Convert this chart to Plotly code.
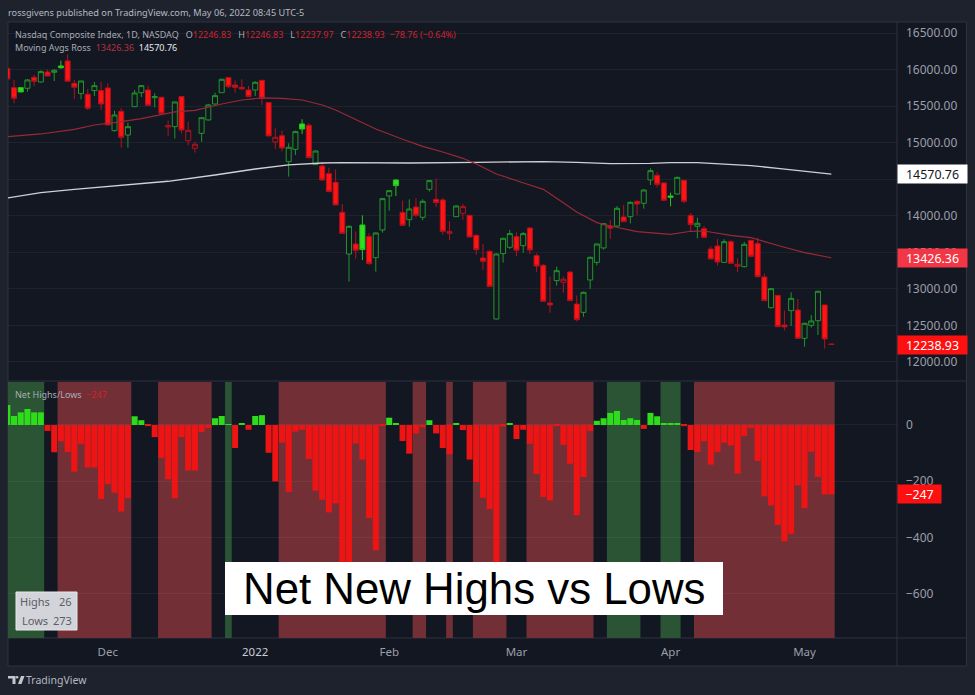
import plotly.graph_objects as go

# Nasdaq Composite daily candles (Nov 9 2021 to May 6 2022)
opens = [16017, 15753, 15753, 15744, 15894, 15830, 15967, 15963, 16049, 16118, 15812, 15671, 15662, 15712, 15712,
         15748, 15165, 15429, 15105, 15493, 15684, 15721, 15616, 15621, 15215, 15219, 15630, 15028, 14923, 15128,
         15311, 15529, 15684, 15890, 15789, 15757, 15721, 15721, 15853, 15548, 15010, 15096, 14741, 14909, 15256,
         15238, 14700, 14681, 14576, 14458, 14047, 13477, 13614, 13874, 13715, 13427, 13806, 14271, 14490, 14047,
         13947, 14120, 13979, 14362, 14225, 14216, 13760, 13988, 14034, 14006, 13733, 13423, 13514, 12588, 13482,
         13569, 13715, 13591, 13833, 13455, 13322, 12807, 13113, 13090, 13231, 12793, 12679, 13122, 13363, 13560,
         13860, 13860, 13984, 13988, 14198, 14171, 14490, 14554, 14449, 14271, 14298, 14485, 14006, 13856, 13824,
         13546, 13587, 13363, 13646, 13309, 13304, 13664, 13623, 13163, 12743, 12912, 12506, 12702, 12711, 12324,
         12502, 12565, 12780, 12246.83]
highs = [16017, 15858, 15760, 15871, 15926, 15990, 15999, 16008, 16122, 16209, 15858, 15844, 15735, 15830, 15830,
         15812, 15438, 15470, 15274, 15721, 15789, 15780, 15675, 15621, 15301, 15561, 15630, 15288, 15014, 15342,
         15529, 15684, 15876, 15890, 15849, 15867, 15776, 15840, 15853, 15548, 15197, 15165, 14991, 15165, 15320,
         15265, 14891, 14718, 14658, 14636, 14161, 13870, 13783, 14006, 13760, 13774, 14244, 14353, 14499, 14207,
         14225, 14239, 14225, 14490, 14508, 14244, 13924, 14143, 14161, 14011, 13742, 13614, 13532, 13487, 13701,
         13806, 13774, 13778, 13838, 13487, 13341, 13167, 13304, 13167, 13240, 12912, 12962, 13441, 13623, 13902,
         13947, 14134, 14148, 14198, 14207, 14362, 14649, 14599, 14453, 14316, 14535, 14490, 14038, 13974, 13860,
         13582, 13683, 13678, 13664, 13418, 13642, 13669, 13701, 13208, 13012, 12917, 12707, 12953, 12862, 12538,
         12643, 12976, 12780, 12246.83]
lows = [15871, 15539, 15690, 15698, 15776, 15821, 15912, 15844, 16008, 15840, 15598, 15593, 15447, 15639, 15447,
        15242, 15151, 14932, 14932, 15493, 15625, 15502, 15484, 15402, 15092, 15055, 15128, 14964, 14864, 15010,
        15301, 15520, 15684, 15748, 15684, 15726, 15630, 15639, 15516, 15092, 14914, 14882, 14535, 14832, 15119,
        14782, 14695, 14481, 14330, 14148, 13760, 13099, 13414, 13395, 13332, 13236, 13769, 14070, 14271, 13860,
        13851, 13979, 13938, 14330, 14120, 13742, 13669, 13984, 13943, 13710, 13468, 13259, 13026, 12584, 13359,
        13546, 13450, 13496, 13477, 13231, 12825, 12675, 13044, 12948, 12834, 12556, 12620, 12999, 13322, 13537,
        13687, 13851, 13920, 13897, 14011, 14098, 14421, 14389, 14203, 14130, 14289, 14171, 13783, 13692, 13701,
        13409, 13318, 13359, 13345, 13227, 13295, 13432, 13154, 12834, 12730, 12483, 12433, 12492, 12315, 12210,
        12470, 12369, 12182, 12237.97]
closes = [15871, 15607, 15694, 15858, 15840, 15972, 15912, 15990, 16026, 15840, 15757, 15844, 15470, 15780, 15529,
          15242, 15379, 15073, 15219, 15680, 15780, 15511, 15630, 15402, 15233, 15557, 15174, 15169, 14978, 15342,
          15516, 15643, 15867, 15767, 15757, 15735, 15630, 15826, 15607, 15092, 15073, 14928, 14937, 15151, 15187,
          14795, 14886, 14490, 14330, 14148, 13760, 13856, 13528, 13537, 13345, 13765, 14234, 14344, 14412, 13870,
          14093, 14006, 14198, 14481, 14180, 13788, 13783, 14134, 14125, 13710, 13537, 13377, 13031, 13477, 13692,
          13756, 13528, 13756, 13532, 13313, 12830, 12780, 13249, 13131, 12839, 12579, 12953, 13432, 13614, 13892,
          13829, 14102, 13920, 14184, 14161, 14353, 14617, 14430, 14212, 14253, 14526, 14198, 13879, 13897, 13705,
          13409, 13368, 13646, 13350, 13336, 13610, 13446, 13167, 12839, 13003, 12483, 12480, 12871, 12324, 12529,
          12561, 12967, 12315, 12238.93]

# moving averages, sampled at the bars where they could be read
ma_red_bars = [0, 5, 10, 13, 16, 20, 25, 28, 32, 35, 38, 41, 44, 47, 49, 53, 55, 59, 62, 65, 68, 70, 73, 78, 80, 82,
               85, 88, 90, 94, 96, 99, 102, 104, 108, 111, 116, 119, 123]
ma_red = [15083, 15119, 15183, 15242, 15274, 15329, 15420, 15443, 15529, 15584, 15612, 15607, 15584, 15515, 15447,
          15279, 15187, 15046, 14950, 14873, 14786, 14709, 14572, 14421, 14362, 14239, 14052, 13906, 13860, 13783,
          13765, 13746, 13788, 13792, 13733, 13701, 13569, 13496, 13426.36]
ma_white_bars = [0, 5, 10, 18, 24, 31, 37, 42, 47, 50, 60, 70, 80, 85, 90, 96, 99, 103, 108, 111, 115, 119, 123]
ma_white = [14244, 14316, 14362, 14421, 14472, 14558, 14640, 14695, 14722, 14727, 14722, 14731, 14741, 14731, 14713,
            14718, 14727, 14727, 14704, 14686, 14649, 14608, 14570.76]

# net new highs minus lows, same bars
net_hl = [71, 32, 45, 57, 45, 45, -21, -97, -58, -96, -166, -67, -151, -151, -263, -211, -241, -308, -260, 31, 17, -4,
          -43, -117, -193, -260, -43, -162, -162, -25, -11, 24, 32, 2, -82, 6, -17, 32, 35, -99, -201, -63, -238, -24,
          -17, -121, -234, -266, -311, -279, -560, -520, -66, -123, -331, -446, -3, 26, 6, -57, -102, -30, -8, 17, -30,
          -82, -104, 6, -18, -123, -203, -259, -299, -520, -5, 4, -50, -17, -67, -174, -256, -269, -4, -71, -138, -321,
          -185, -21, 15, 24, 43, 50, 18, 24, 18, -14, 43, 31, 4, 5, 5, -4, -89, -96, -58, -141, -96, -63, -73, -173,
          -39, -11, -128, -254, -286, -356, -414, -387, -215, -296, -95, -185, -247, -247]

# shaded background runs on the lower pane, in bars
green_bands = [(-1, 5.5), (32.5, 33.5), (89.5, 94.5), (97.5, 100.5)]
red_bands = [(7.5, 18.5), (22.5, 30.5), (40.5, 56.5), (60.5, 62.5), (65.5, 66.5), (69.5, 74.5), (77.5, 87.5),
             (102.5, 123.5)]

month_bars = [15, 37, 57, 76, 99, 119]
month_labels = ['Dec', '<span style="color:#c9ccd4">2022</span>', 'Feb', 'Mar', 'Apr', 'May']
price_ticks = [12000, 12500, 13000, 13500, 14000, 14500, 15000, 15500, 16000, 16500]
net_ticks = [0, -200, -400, -600]
net_tick_labels = ['0', '\u2212200', '\u2212400', '\u2212600']

W, H = 975, 695
LEFT, RIGHT, TOP, BOTTOM = 8, 897, 23, 638
PAGE = '#1e222d'
PANE = '#131722'
BORDER = '#2e323e'
GRID = 'rgba(255,255,255,0.05)'
AXIS_TEXT = '#9b9fa9'
FONT = 'Noto Sans'


def xp(px):
    return (px - LEFT) / (RIGHT - LEFT)


def yp(py):
    return (BOTTOM - py) / (BOTTOM - TOP)


def rect(x0, y0, x1, y1, fill, line=None, layer='below'):
    return dict(type='rect', xref='paper', yref='paper', x0=xp(x0), x1=xp(x1), y0=yp(y0), y1=yp(y1),
                fillcolor=fill, line=dict(color=line or fill, width=1 if line else 0), layer=layer)


def label(px, py, text, size=9.5, color='#a9adb7', anchor='left', family=FONT):
    return dict(xref='paper', yref='paper', x=xp(px), y=yp(py), text=text, showarrow=False, xanchor=anchor,
                yanchor='middle', align=anchor, font=dict(family=family, size=size, color=color),
                borderpad=0, borderwidth=0)


def price_tag(yref, value, text, width, fill, color='#ffffff'):
    return dict(xref='paper', yref=yref, x=1, y=value, text=text, showarrow=False, xanchor='left', yanchor='middle',
                align='center', width=width, height=18, bgcolor=fill, borderpad=0,
                font=dict(family=FONT, size=12.4, color=color))


fig = go.Figure()

# hollow when the day closed above its open, coloured against the prior close
bars = list(range(len(closes)))
up_vs_prev = [False] + [closes[i] > closes[i - 1] for i in bars[1:]]
candle_styles = [
    (True, True, '#21962a', PANE),
    (True, False, '#b3121e', PANE),
    (False, True, '#27c41c', '#2ee01f'),
    (False, False, '#b3121e', '#ff1313'),
]
for hollow, green, line_color, fill in candle_styles:
    picked = [i for i in bars if (closes[i] > opens[i]) == hollow and up_vs_prev[i] == green]
    side = dict(line=dict(color=line_color, width=1), fillcolor=fill)
    fig.add_trace(go.Candlestick(
        x=picked,
        open=[opens[i] for i in picked],
        high=[highs[i] for i in picked],
        low=[lows[i] for i in picked],
        close=[closes[i] for i in picked],
        increasing=side,
        decreasing=side,
        showlegend=False,
        hoverinfo='skip',
    ))

fig.add_trace(go.Scatter(x=ma_white_bars, y=ma_white, mode='lines', line=dict(color='#d0d1d6', width=1.3),
                         showlegend=False, hoverinfo='skip'))
fig.add_trace(go.Scatter(x=ma_red_bars, y=ma_red, mode='lines', line=dict(color='#982a35', width=1.2),
                         showlegend=False, hoverinfo='skip'))

fig.add_trace(go.Bar(x=bars, y=net_hl, xaxis='x2', yaxis='y2', showlegend=False, hoverinfo='skip',
                     marker=dict(color=['#2fdc1c' if v >= 0 else '#ee1414' for v in net_hl], line=dict(width=0))))

shapes = [
    rect(8, 22, 966.5, 666, PANE, BORDER),
    dict(type='line', xref='paper', yref='paper', x0=xp(8), x1=xp(966.5), y0=yp(381), y1=yp(381),
         line=dict(color=BORDER, width=1), layer='below'),
    dict(type='line', xref='paper', yref='paper', x0=xp(8), x1=xp(966.5), y0=yp(638), y1=yp(638),
         line=dict(color=BORDER, width=1), layer='below'),
    dict(type='line', xref='paper', yref='paper', x0=xp(897), x1=xp(897), y0=yp(22), y1=yp(666),
         line=dict(color=BORDER, width=1), layer='below'),
]
for bands, color in ((green_bands, '#2a5434'), (red_bands, '#723036')):
    for start, end in bands:
        shapes.append(dict(type='rect', xref='x2', yref='y2 domain', x0=start, x1=end, y0=0, y1=1,
                           fillcolor=color, line=dict(width=0), layer='below'))

# overlay boxes sit above the bars
shapes.append(rect(225, 562, 723, 615, '#ffffff', layer='above'))
shapes.append(rect(16, 592, 77, 630, '#d2d4d9', '#e6e7ea', layer='above'))

# TradingView mark
logo_x = [8, 15.5, 15.5, 12.5, 12.5, 8]
logo_y = [676, 676, 684, 684, 678.5, 678.5]
logo = 'M ' + ' L '.join(f'{xp(a):.5f},{yp(b):.5f}' for a, b in zip(logo_x, logo_y)) + ' Z'
shapes.append(dict(type='path', xref='paper', yref='paper', path=logo, fillcolor='#c4c7ce', line=dict(width=0)))
slant_x = [18, 21.5, 24.5, 21]
slant_y = [684, 684, 676, 676]
slant = 'M ' + ' L '.join(f'{xp(a):.5f},{yp(b):.5f}' for a, b in zip(slant_x, slant_y)) + ' Z'
shapes.append(dict(type='path', xref='paper', yref='paper', path=slant, fillcolor='#c4c7ce', line=dict(width=0)))
shapes.append(dict(type='circle', xref='paper', yref='paper', x0=xp(15.8), x1=xp(18.4), y0=yp(676), y1=yp(678.6),
                   fillcolor='#c4c7ce', line=dict(width=0)))

red_txt = '<span style="color:#d0222c">'
ohlc_line = ('Nasdaq Composite Index, 1D, NASDAQ   O' + red_txt + '12246.83</span>   H' + red_txt + '12246.83</span>   L'
             + red_txt + '12237.97</span>   C' + red_txt + '12238.93  \u221278.76 (\u22120.64%)</span>')
ma_line = ('Moving Avgs Ross  <span style="color:#b5323e">13426.36</span>  '
           '<span style="color:#e8e9ec">14570.76</span>')

annotations = [
    label(8, 12, 'rossgivens published on TradingView.com, May 06, 2022 08:45 UTC-5', size=9.2, color='#b4b8c2'),
    label(15, 34, ohlc_line, size=9),
    label(15, 47.5, ma_line, size=9),
    label(15, 394, 'Net Highs/Lows  ' + red_txt + '\u2212247</span>', size=9),
    price_tag('y', ma_white[-1], f'{ma_white[-1]:.2f}', 69, '#ffffff', '#131722'),
    price_tag('y', ma_red[-1], f'{ma_red[-1]:.2f}', 69, '#f23645'),
    price_tag('y', closes[-1], f'{closes[-1]:.2f}', 69, '#ff1010'),
    price_tag('y2', net_hl[-1], '\u2212' + str(abs(net_hl[-1])), 43, '#ff1010'),
    label(474, 588, 'Net New Highs vs Lows', size=43.8, color='#000000', anchor='center', family='Liberation Sans'),
    label(20, 601, 'Highs', size=11, color='#5a5d66'),
    label(72, 601, '26', size=11, color='#5a5d66', anchor='right'),
    label(22, 620, 'Lows', size=11, color='#5a5d66'),
    label(72, 620, '273', size=11, color='#5a5d66', anchor='right'),
    label(26, 680, 'TradingView', size=10.5, color='#b4b8c2'),
]

fig.update_layout(
    width=W,
    height=H,
    margin=dict(l=LEFT, r=W - RIGHT, t=TOP, b=H - BOTTOM, pad=0),
    paper_bgcolor=PAGE,
    plot_bgcolor=PANE,
    boxgap=0.25,
    boxgroupgap=0,
    bargap=0.1,
    showlegend=False,
    shapes=shapes,
    annotations=annotations,
    xaxis=dict(domain=[0, 1], range=[0.1, 132.8], anchor='y', showgrid=False, showticklabels=False, zeroline=False,
               rangeslider=dict(visible=False)),
    yaxis=dict(domain=[yp(381), 1], range=[11740, 16637], side='right', tickvals=price_ticks, tickformat='.2f',
               gridcolor=GRID, zeroline=False, ticklabelstandoff=8, showline=False,
               tickfont=dict(family=FONT, size=12, color=AXIS_TEXT)),
    xaxis2=dict(domain=[0, 1], range=[0.1, 132.8], anchor='y2', showgrid=False, zeroline=False, tickvals=month_bars,
                ticktext=month_labels, ticklabelstandoff=5, tickfont=dict(family=FONT, size=11.5, color=AXIS_TEXT)),
    yaxis2=dict(domain=[0, yp(382)], range=[-758, 153], anchor='x2', side='right', tickvals=net_ticks,
                ticktext=net_tick_labels, gridcolor=GRID, zeroline=False, ticklabelstandoff=8,
                tickfont=dict(family=FONT, size=12, color=AXIS_TEXT)),
)

# the page's default body margin would push the 975x695 figure off the window
fig.write_html("out.html", config=dict(displayModeBar=False),
               post_script="document.body.style.margin='0';document.body.style.overflow='hidden';")
